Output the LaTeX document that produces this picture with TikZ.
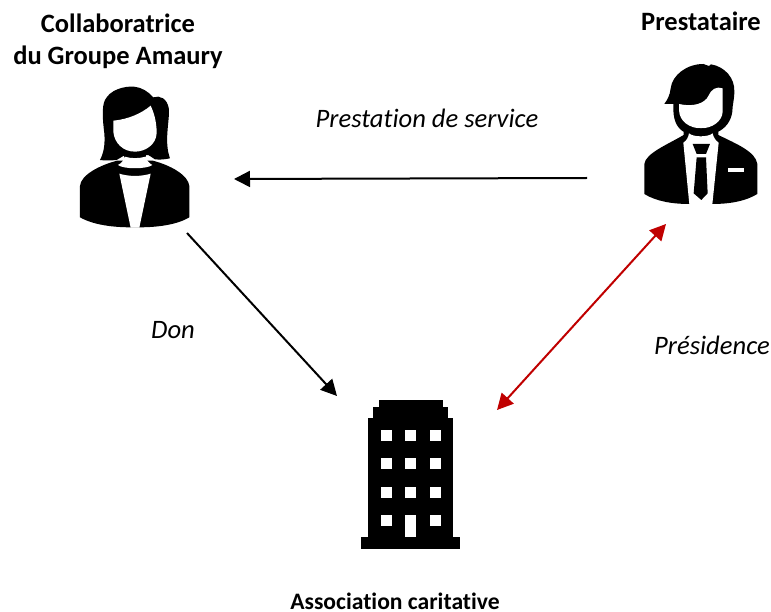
\documentclass[tikz,border=0pt]{standalone}
\usepackage{fontspec}
\setmainfont[Ligatures=NoCommon]{Carlito}
\usetikzlibrary{arrows.meta}
\definecolor{redline}{HTML}{C00000}
\tikzset{
  x=1pt,y=-1pt,
  title/.style={font=\fontsize{26.5}{32}\selectfont\bfseries,align=center,inner sep=0pt,text=black},
  asso/.style={font=\fontsize{23.6}{28}\selectfont\bfseries,inner sep=0pt,text=black,anchor=base},
  lab/.style={font=\fontsize{26.6}{30}\selectfont\itshape,inner sep=0pt,text=black},
  link/.style={line width=2pt,-{Triangle[length=16pt,width=16pt]}},
  redlink/.style={line width=2pt,redline,{Triangle[length=16pt,width=16pt]}-{Triangle[length=16pt,width=16pt]}},
  ink/.style={fill=black,draw=none},
  paper/.style={fill=white,draw=none},
  icon/.style={x=0.3333pt,y=-0.3333pt}
}
\begin{document}
\begin{tikzpicture}
\useasboundingbox (0,0) rectangle (771,612);
\fill[white] (0,0) rectangle (771,612);

% woman
\begin{scope}[shift={(60pt,-70pt)},icon]
\fill[ink] (120,270) .. controls (133,245) and (135,220) .. (133,190) .. controls (128,150) and (125,110) .. (135,90)
  .. controls (150,60) and (190,48) .. (222,50) .. controls (245,52) and (265,65) .. (280,82)
  .. controls (300,75) and (322,85) .. (327,118) .. controls (328,160) and (312,215) .. (330,265)
  .. controls (315,268) and (300,270) .. (285,268) -- (265,255) -- (190,258) -- (170,270) .. controls (150,272) and (135,272) .. (120,270) -- cycle;
\fill[paper] (160,152) .. controls (205,148) and (245,130) .. (272,107) .. controls (280,125) and (290,150) .. (290,190)
  .. controls (288,225) and (255,245) .. (225,245) .. controls (190,245) and (163,220) .. (160,185) -- cycle;
\fill[ink] (60,348) .. controls (62,315) and (120,285) .. (172,272) -- (278,272) .. controls (330,285) and (385,315) .. (388,348)
  -- (388,442) .. controls (350,465) and (290,472) .. (238,472) -- (212,472) .. controls (160,472) and (100,465) .. (60,442) -- cycle;
\fill[ink] (193,250) rectangle (257,275);
\fill[paper] (174,285) .. controls (184,280) and (192,270) .. (194,260) .. controls (215,266) and (235,266) .. (257,260)
  .. controls (259,270) and (267,280) .. (277,285) .. controls (260,298) and (190,298) .. (174,285) -- cycle;
\fill[paper] (178,311) .. controls (205,320) and (245,320) .. (272,311) -- (238,473) -- (212,473) -- cycle;
\end{scope}

% man
\begin{scope}[shift={(625pt,-50pt)},icon]
\fill[ink] (118,162) .. controls (128,148) and (135,135) .. (137,115) .. controls (142,75) and (185,42) .. (235,42)
  .. controls (242,44) and (248,47) .. (252,48) -- (258,43) .. controls (300,50) and (330,85) .. (328,125)
  .. controls (328,150) and (322,165) .. (322,185) .. controls (318,215) and (300,235) .. (280,245) -- (175,245)
  .. controls (155,232) and (143,210) .. (145,162) -- cycle;
\fill[paper] (162,162) .. controls (205,172) and (240,160) .. (250,138) .. controls (258,118) and (275,108) .. (293,115)
  -- (293,185) .. controls (292,215) and (260,235) .. (228,235) .. controls (195,235) and (163,215) .. (162,180) -- cycle;
\fill[ink] (58,342) .. controls (62,310) and (125,285) .. (176,255) -- (176,235) -- (280,235) -- (280,255) .. controls (335,282) and (392,305) .. (397,342)
  -- (397,432) .. controls (360,455) and (310,462) .. (262,462) -- (193,462) .. controls (145,462) and (95,455) .. (58,432) -- cycle;
\fill[paper] (175,278) .. controls (185,272) and (190,262) .. (192,250) .. controls (205,262) and (250,262) .. (263,250)
  .. controls (265,262) and (272,272) .. (281,278) -- (262,463) -- (193,463) -- cycle;
\fill[ink] (203,282) -- (255,282) -- (243,312) -- (215,312) -- cycle;
\fill[ink] (215,322) -- (243,322) -- (248,430) -- (229,450) -- (206,430) -- cycle;
\fill[paper] (308,355) rectangle (356,367);
\end{scope}

% building
\begin{scope}[shift={(340pt,-385pt)},icon]
\fill[ink] (63,455) rectangle (360,492);
\fill[ink] (85,98) rectangle (340,456);
\fill[ink] (100,67) rectangle (325,99);
\fill[ink] (117,45) rectangle (308,68);
\foreach \wy/\hy in {135/167,220/252,305/338}
  \foreach \wx/\hx in {122/155,196/228,271/303}
    \fill[paper] (\wx,\wy) rectangle (\hx,\hy);
\fill[paper] (122,390) rectangle (155,422);
\fill[paper] (196,390) rectangle (228,455);
\fill[paper] (271,390) rectangle (303,422);
\end{scope}

% labels
\node[title] (womantitle) at (118,41) {Collaboratrice\\du Groupe Amaury};
\node[title] (mantitle) at (701,21) {Prestataire};
\node[asso] (assotitle) at (395,609) {Association caritative};
\node[lab] (service) at (427,118) {Prestation de service};
\node[lab] (don) at (173,330) {Don};
\node[lab] (presidence) at (712,345) {Présidence};

% connector ends
\coordinate (womanright) at (234,179);
\coordinate (manleft) at (587,178);
\coordinate (womanfoot) at (187,233);
\coordinate (buildnw) at (337,396);
\coordinate (buildne) at (497,410);
\coordinate (manfoot) at (666,224);

\draw[link] (manleft) -- (womanright);
\draw[link] (womanfoot) -- (buildnw);
\draw[redlink] (buildne) -- (manfoot);
\end{tikzpicture}
\end{document}
